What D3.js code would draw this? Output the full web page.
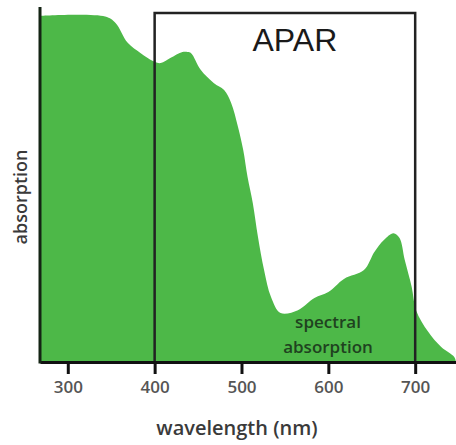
<!DOCTYPE html>
<html>
<head>
<meta charset="utf-8">
<script src="https://cdnjs.cloudflare.com/ajax/libs/d3/7.8.5/d3.min.js"></script>
<style>
    body { margin: 0; background: #fff; }
    svg { display: block; }
</style>
</head>
<body>
<div id="chart-container"></div>
<script>
//data
var wavelengths = [268, 343, 355, 369, 384, 398, 407, 418, 432, 438, 442, 453, 468, 480, 488, 496, 502, 507, 513, 519, 526, 534, 545, 565, 584, 600, 618, 641, 653, 664, 675, 682, 688, 696, 701, 715, 730, 745, 747];
var absorption = [0.975, 0.973, 0.955, 0.899, 0.870, 0.848, 0.842, 0.856, 0.873, 0.873, 0.870, 0.823, 0.786, 0.766, 0.730, 0.662, 0.597, 0.521, 0.448, 0.352, 0.259, 0.183, 0.138, 0.146, 0.180, 0.197, 0.234, 0.259, 0.310, 0.344, 0.363, 0.349, 0.287, 0.211, 0.146, 0.085, 0.042, 0.014, 0];
var xTicks = [300, 400, 500, 600, 700];
var aparRange = [400, 700];

//sizes
var outerW = 456,
    outerH = 445,
    margin = {top: 7, right: 0, bottom: 83, left: 40};

var spectrum = wavelengths.map(function(d, i) {
    return {w: d, a: absorption[i]};
});

var svg = d3.select('#chart-container').append('svg')
    .attr('width', outerW)
    .attr('height', outerH);

//scales
var xScale = d3.scaleLinear()
    .domain([268, 747])
    .range([margin.left, outerW - margin.right]);

var yScale = d3.scaleLinear()
    .domain([0, 1])
    .range([outerH - margin.bottom, margin.top]);

var baseY = yScale(0);

//green absorption area
var area = d3.area()
    .x(function(d) { return xScale(d.w); })
    .y0(baseY)
    .y1(function(d) { return yScale(d.a); })
    .curve(d3.curveCatmullRom);

svg.append('path')
    .datum(spectrum)
    .attr('d', area)
    .attr('fill', '#4db848');

//APAR box
svg.append('path')
    .attr('d', 'M' + xScale(aparRange[0]) + ',' + baseY +
        'V' + (margin.top + 6) +
        'H' + xScale(aparRange[1]) +
        'V' + baseY)
    .attr('fill', 'none')
    .attr('stroke', '#222')
    .attr('stroke-width', 2.5);

svg.append('text')
    .attr('x', (xScale(aparRange[0]) + xScale(aparRange[1])) / 2 + 10)
    .attr('y', 51)
    .attr('text-anchor', 'middle')
    .style('font-family', 'Liberation Sans, Arial, sans-serif')
    .style('font-size', '32px')
    .attr('fill', '#1a1a1a')
    .text('APAR');

//x axis
var xAxis = d3.axisBottom(xScale)
    .tickValues(xTicks)
    .tickSize(12)
    .tickSizeOuter(0)
    .tickPadding(7);

var xAxisG = svg.append('g')
    .attr('transform', 'translate(0,' + baseY + ')')
    .call(xAxis);

xAxisG.select('.domain')
    .attr('stroke', '#111')
    .attr('stroke-width', 3);

xAxisG.selectAll('.tick line')
    .attr('stroke', '#111')
    .attr('stroke-width', 3);

xAxisG.selectAll('.tick text')
    .style('font-family', 'Open Sans, sans-serif')
    .style('font-size', '17px')
    .style('font-weight', '600')
    .attr('fill', '#555');

//y axis line, no ticks
svg.append('line')
    .attr('x1', margin.left)
    .attr('x2', margin.left)
    .attr('y1', margin.top)
    .attr('y2', baseY + 1.5)
    .attr('stroke', '#142414')
    .attr('stroke-width', 3);

//labels
svg.append('text')
    .attr('x', 237)
    .attr('y', 435)
    .attr('text-anchor', 'middle')
    .style('font-family', 'Open Sans, sans-serif')
    .style('font-size', '20px')
    .style('font-weight', '600')
    .attr('fill', '#3a3a3a')
    .text('wavelength (nm)');

svg.append('text')
    .attr('transform', 'translate(27,197) rotate(-90)')
    .attr('text-anchor', 'middle')
    .style('font-family', 'Open Sans, sans-serif')
    .style('font-size', '18px')
    .style('font-weight', '600')
    .attr('fill', '#3a3a3a')
    .text('absorption');

svg.append('text')
    .attr('x', 328)
    .attr('y', 328)
    .attr('text-anchor', 'middle')
    .style('font-family', 'Open Sans, sans-serif')
    .style('font-size', '17px')
    .style('font-weight', '600')
    .attr('fill', '#1f421f')
    .text('spectral');

svg.append('text')
    .attr('x', 328)
    .attr('y', 353)
    .attr('text-anchor', 'middle')
    .style('font-family', 'Open Sans, sans-serif')
    .style('font-size', '17px')
    .style('font-weight', '600')
    .attr('fill', '#1f421f')
    .text('absorption');
</script>
</body>
</html>
